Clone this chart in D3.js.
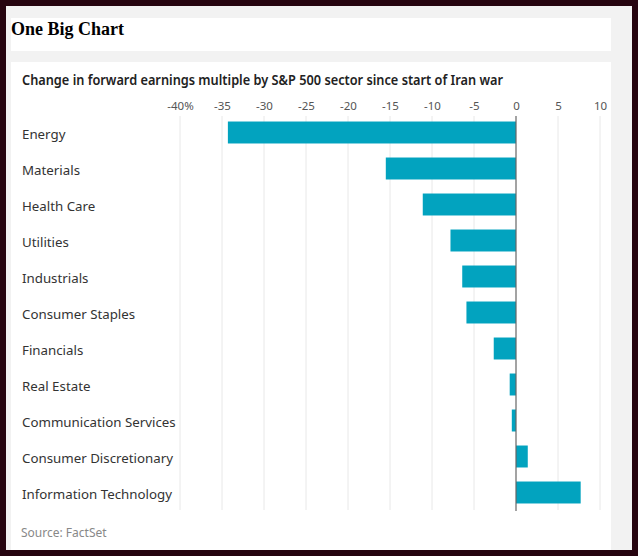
<!DOCTYPE html>
<html>
<head>
<meta charset="utf-8">
<script src="https://cdn.jsdelivr.net/npm/d3@7"></script>
<style>
  body { margin: 0; background: #26040f; }
  svg { display: block; }
</style>
</head>
<body>
<svg id="chart"></svg>
<script>
'use strict';

var sectors = ['Energy', 'Materials', 'Health Care', 'Utilities', 'Industrials', 'Consumer Staples',
  'Financials', 'Real Estate', 'Communication Services', 'Consumer Discretionary', 'Information Technology']
var changes = [-34.3, -15.5, -11.1, -7.8, -6.4, -5.9, -2.65, -0.75, -0.5, 1.4, 7.7]
var tickValues = [-40, -35, -30, -25, -20, -15, -10, -5, 0, 5, 10]

var width = 638,
  height = 556,
  plotLeft = 180,
  plotRight = 600,
  plotTop = 114.5,
  plotBottom = 510.5

var svg = d3.select('#chart')
  .attr('width', width)
  .attr('height', height)

// frame: dark border, grey page, white boxes
svg.append('rect').attr('width', width).attr('height', height).attr('fill', '#26040f')
svg.append('rect').attr('x', 6).attr('y', 6).attr('width', 626).attr('height', 544).attr('fill', '#f2f2f2')
svg.append('rect').attr('x', 11).attr('y', 18).attr('width', 600).attr('height', 33).attr('fill', '#fff')
svg.append('rect').attr('x', 11).attr('y', 62).attr('width', 600).attr('height', 488).attr('fill', '#fff')

svg.append('text')
  .attr('x', 11).attr('y', 35)
  .attr('font-family', 'Liberation Serif, Times New Roman, serif')
  .attr('font-weight', 'bold')
  .attr('font-size', 18)
  .attr('fill', '#000')
  .text('One Big Chart')

// headline is a narrow face in the original, squeeze to the same width
svg.append('text')
  .attr('x', 22).attr('y', 85)
  .attr('font-family', 'Noto Sans, sans-serif')
  .attr('font-weight', 600)
  .attr('font-size', 14.5)
  .attr('fill', '#222')
  .attr('textLength', 481)
  .attr('lengthAdjust', 'spacingAndGlyphs')
  .text('Change in forward earnings multiple by S&P 500 sector since start of Iran war')

var xScale = d3.scaleLinear()
  .domain([-40, 10])
  .range([plotLeft, plotRight])

var yScale = d3.scaleBand()
  .domain(sectors)
  .range([plotTop, plotBottom])
  .paddingInner(0.39)
  .paddingOuter(0.195)

var g = svg.append('g')

// gridlines
g.selectAll('line.grid')
  .data(tickValues.filter(function(d) { return d !== 0 }))
  .enter().append('line')
  .attr('class', 'grid')
  .attr('x1', function(d) { return xScale(d) })
  .attr('x2', function(d) { return xScale(d) })
  .attr('y1', 116)
  .attr('y2', 510)
  .attr('stroke', '#e8e8e8')
  .attr('stroke-width', 1)

// tick labels via axis
var xAxis = d3.axisTop(xScale)
  .tickValues(tickValues)
  .tickSize(0)
  .tickPadding(0)
  .tickFormat(function(d) { return d === -40 ? '-40%' : String(d) })

var xAxisG = svg.append('g')
  .attr('transform', 'translate(0,110)')
  .call(xAxis)
xAxisG.select('.domain').remove()
xAxisG.selectAll('text')
  .attr('font-family', 'Noto Sans, sans-serif')
  .attr('font-size', 11.5)
  .attr('fill', '#555')

// bars
g.selectAll('rect.bar')
  .data(changes)
  .enter().append('rect')
  .attr('class', 'bar')
  .attr('x', function(d) { return xScale(Math.min(0, d)) })
  .attr('width', function(d) { return Math.abs(xScale(d) - xScale(0)) })
  .attr('y', function(d, i) { return yScale(sectors[i]) })
  .attr('height', yScale.bandwidth())
  .attr('fill', '#02a3bf')

// zero line
g.append('line')
  .attr('x1', xScale(0)).attr('x2', xScale(0))
  .attr('y1', 116).attr('y2', 511)
  .attr('stroke', '#666')
  .attr('stroke-width', 1.2)

// sector labels
g.selectAll('text.label')
  .data(sectors)
  .enter().append('text')
  .attr('class', 'label')
  .attr('x', 22)
  .attr('y', function(d) { return yScale(d) + yScale.bandwidth() / 2 + 2 })
  .attr('dy', '0.35em')
  .attr('font-family', 'Noto Sans, sans-serif')
  .attr('font-size', 13.3)
  .attr('fill', '#333')
  .text(function(d) { return d })

svg.append('text')
  .attr('x', 21).attr('y', 537)
  .attr('font-family', 'Noto Sans, sans-serif')
  .attr('font-size', 12)
  .attr('fill', '#888')
  .text('Source: FactSet')
</script>
</body>
</html>
